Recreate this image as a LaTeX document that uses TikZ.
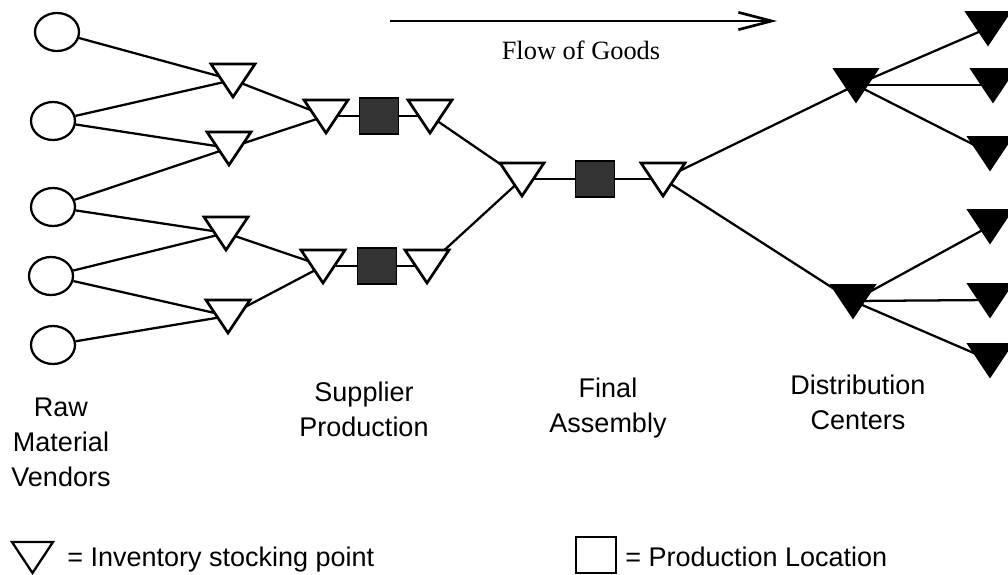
\documentclass[tikz,border=0pt]{standalone}
\usepackage{fontspec}
\setmainfont{Liberation Serif}
\newfontfamily\labelfont{Liberation Sans}
\usetikzlibrary{shapes.geometric,arrows.meta,calc}

% inverted triangle (stocking point) drawn around a named point
\newcommand\stockpt[2]{\path[#2] ($(#1)+(-22,-16)$) -- ($(#1)+(22,-16)$) -- ($(#1)+(0,17)$) -- cycle;}

\begin{document}
\begin{tikzpicture}[x=0.75pt,y=-0.75pt,
  link/.style={line width=1.7pt},
  flow/.style={line width=2.2pt,-{Straight Barb[length=25pt,width=13pt,line width=2pt]}},
  vendor/.style={ellipse,draw,line width=1.7pt,fill=white,minimum width=33pt,minimum height=28.5pt,inner sep=0pt},
  plant/.style={rectangle,draw,line width=1.2pt,fill=black!80,minimum width=29pt,minimum height=27pt,inner sep=0pt},
  stock/.style={rectangle,minimum width=16.5pt,minimum height=0pt,inner sep=0pt,outer sep=0pt},
  stockwhite/.style={draw,line width=2pt,fill=white},
  stockblack/.style={draw,line width=1.2pt,fill=black},
  stagelabel/.style={font=\labelfont\fontsize{20.25pt}{26.25pt}\selectfont,align=center,anchor=north,inner sep=0pt},
  legendtext/.style={font=\labelfont\fontsize{20.25pt}{24pt}\selectfont,anchor=base west,inner sep=0pt},
]
\fill[white] (0,0) rectangle (1008,575);
\useasboundingbox (0,0) rectangle (1008,575);

% raw material vendors
\node[vendor] (v1) at (57,32) {};
\node[vendor] (v2) at (53,121) {};
\node[vendor] (v3) at (53,207) {};
\node[vendor] (v4) at (51,276) {};
\node[vendor] (v5) at (53,345) {};

% stocking points
\node[stock] (t1) at (233,80) {};
\node[stock] (t2) at (229,148) {};
\node[stock] (t3) at (226,233) {};
\node[stock] (t4) at (228,316) {};
\node[stock] (s1) at (326,116) {};
\node[stock] (s1b) at (430,116) {};
\node[stock] (s2) at (323,266) {};
\node[stock] (s2b) at (427,266) {};
\node[stock] (f1) at (522,179) {};
\node[stock] (f2) at (663,179) {};
\node[stock] (d1) at (856,85) {};
\node[stock] (d2) at (853,301) {};
\node[stock] (r1) at (988,28) {};
\node[stock] (r2) at (993,85) {};
\node[stock] (r3) at (990,153) {};
\node[stock] (r4) at (990,226) {};
\node[stock] (r5) at (990,300) {};
\node[stock] (r6) at (990,360) {};

% production locations
\node[plant] (p1) at (379,116) {};
\node[plant] (p2) at (377,266) {};
\node[plant] (p3) at (595,179) {};

% material flow links
\draw[link] (v1) -- (t1);
\draw[link] (v2) -- (t1);
\draw[link] (v2) -- (t2);
\draw[link] (v3) -- (t2);
\draw[link] (v3) -- (t3);
\draw[link] (v4) -- (t3);
\draw[link] (v4) -- (t4);
\draw[link] (v5) -- (t4);
\draw[link] (t1) -- (s1);
\draw[link] (t2) -- (s1);
\draw[link] (t3) -- (s2);
\draw[link] (t4) -- (s2);
\draw[link] (s1) -- (p1);
\draw[link] (p1) -- (s1b);
\draw[link] (s2) -- (p2);
\draw[link] (p2) -- (s2b);
\draw[link] (s1b) -- (f1);
\draw[link] (s2b) -- (f1);
\draw[link] (f1) -- (p3);
\draw[link] (p3) -- (f2);
\draw[link] (f2) -- (d1);
\draw[link] (f2) -- (d2);
\draw[link] (d1) -- (r1);
\draw[link] (d1) -- (r2);
\draw[link] (d1) -- (r3);
\draw[link] (d2) -- (r4);
\draw[link] (d2) -- (r5);
\draw[link] (d2) -- (r6);

% triangles on top of the links
\foreach \n in {t1,t2,t3,t4,s1,s1b,s2,s2b,f1,f2}{\stockpt{\n}{stockwhite}}
\foreach \n in {d1,d2,r1,r2,r3,r4,r5,r6}{\stockpt{\n}{stockblack}}

% direction of flow
\coordinate (flowstart) at (390,21);
\coordinate (flowend) at (777,21);
\draw[flow] (flowstart) -- (flowend);
\node[anchor=base,inner sep=0pt,font=\fontsize{19.8pt}{23pt}\selectfont] (flowlabel) at (581,59) {Flow of Goods};

% stage labels
\node[stagelabel] (rawlabel) at (61,398) {Raw\\Material\\Vendors};
\node[stagelabel] (supplabel) at (364,382) {Supplier\\Production};
\node[stagelabel] (finallabel) at (608,378) {Final\\Assembly};
\node[stagelabel] (distlabel) at (858,375) {Distribution\\Centers};

% legend
\coordinate (legstock) at (32.5,557);
\path[stockwhite,line width=1.7pt] ($(legstock)+(-20.5,-15)$) -- ($(legstock)+(20.5,-15)$) -- ($(legstock)+(0,16)$) -- cycle;
\node[legendtext] (legstocktext) at (67,566) {= Inventory stocking point};
\node[rectangle,draw,line width=1.7pt,fill=white,minimum width=30pt,minimum height=27pt,inner sep=0pt] (legplant) at (596,555) {};
\node[legendtext] (legplanttext) at (625,566) {= Production Location};
\end{tikzpicture}
\end{document}
